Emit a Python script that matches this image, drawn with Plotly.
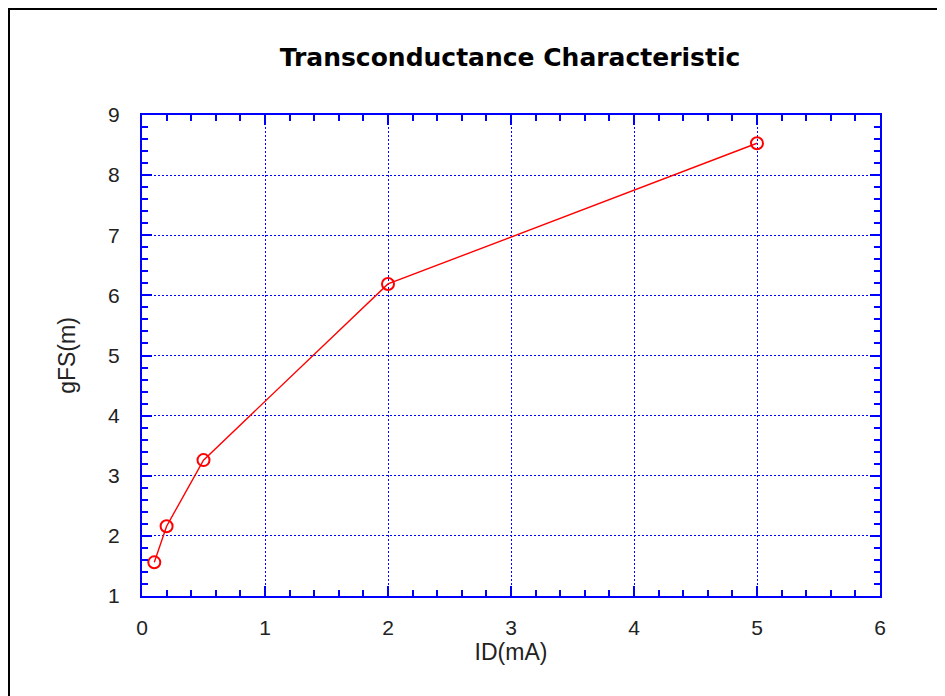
import plotly.graph_objects as go

# measured points
id_ma = [0.1, 0.2, 0.5, 2, 5]
gfs = [1.56, 2.16, 3.26, 6.19, 8.53]

x_ticks = [0, 1, 2, 3, 4, 5, 6]
y_ticks = [1, 2, 3, 4, 5, 6, 7, 8, 9]

BLUE = "rgb(0,0,255)"
RED = "#ff0000"
FONT = "Liberation Sans, Arial, sans-serif"
TXT = "#222222"

# page has an 8px body margin; figure sized to fill the rest of the window
W, H = 937, 688
L, T = 134, 107          # plot area starts at page (142, 115)
R, B = 945 - 880, 696 - 596
PW, PH = W - L - R, H - T - B

fig = go.Figure()
fig.add_trace(go.Scatter(
    x=id_ma, y=gfs, mode="lines+markers",
    line=dict(color=RED, width=1.4),
    marker=dict(symbol="circle-open", size=12, color=RED, line=dict(width=2)),
    showlegend=False,
))

axis_common = dict(
    showline=True, linecolor=BLUE, linewidth=2, mirror="ticks",
    ticks="inside", ticklen=10, tickwidth=2, tickcolor=BLUE,
    showgrid=True, gridcolor=BLUE, gridwidth=1, griddash="2px,2px",
    zeroline=False,
    tickfont=dict(family=FONT, size=21, color=TXT),
    title_font=dict(family=FONT, size=23, color=TXT),
)
minor_common = dict(dtick=0.2, ticks="inside", ticklen=6, tickwidth=2,
                    tickcolor=BLUE, showgrid=False)

fig.update_xaxes(range=[0, 6], tickvals=x_ticks, title_text="ID(mA)",
                 title_standoff=4, ticklabelstandoff=12,
                 minor=minor_common, **axis_common)
fig.update_yaxes(range=[1, 9], tickvals=y_ticks, title_text="gFS(m)",
                 title_standoff=26, ticklabelstandoff=16,
                 minor=minor_common, **axis_common)

# outer frame (only top/left edges fall inside the window)
fig.add_shape(type="rect", xref="paper", yref="paper",
              x0=(1 - L) / PW, x1=1.3, y0=-0.4, y1=1 + (T - 1) / PH,
              line=dict(color="black", width=2))

fig.update_layout(
    width=W, height=H,
    margin=dict(l=L, r=R, t=T, b=B),
    plot_bgcolor="white", paper_bgcolor="white",
    title=dict(text="<b>Transconductance Characteristic</b>",
               x=(510 - 8) / W, xanchor="center",
               y=1 - (57 - 8) / H, yanchor="middle",
               font=dict(family="DejaVu Sans, Verdana, sans-serif", size=25,
                         color="black")),
)

fig.write_html("out.html")
